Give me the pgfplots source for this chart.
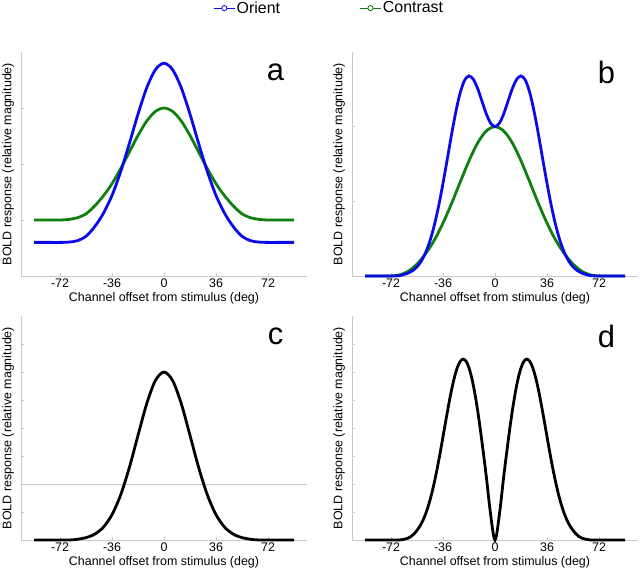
\documentclass[border=0pt]{standalone}
\usepackage{pgfplots}
\pgfplotsset{compat=1.18}
\usepackage{fontspec}
\setmainfont{Liberation Sans}
\definecolor{cblue}{RGB}{10,10,235}
\definecolor{cgreen}{RGB}{15,128,15}
\definecolor{axgray}{RGB}{200,200,200}
\pgfplotsset{panel/.style={
 scale only axis, width=286bp, height=224bp,
 xmin=-99, xmax=99,
 axis x line*=bottom, axis y line*=left,
 axis line style={axgray, line width=0.8bp, -},
 xtick={-72,-36,0,36,72}, xticklabels={-72,-36,0,36,72},
 yticklabels={},
 tick align=inside, major tick length=3bp,
 tick style={axgray, line width=0.8bp},
 xticklabel style={font=\fontsize{12.5}{14}\selectfont, inner sep=1bp, yshift=-2bp},
 xlabel={Channel offset from stimulus (deg)},
 ylabel={BOLD response (relative magnitude)},
 label style={font=\fontsize{12.5}{14}\selectfont},
 xlabel style={at={(axis description cs:0.5,-0.1)}, anchor=center},
 ylabel style={at={(axis description cs:-0.045,0.5)}, anchor=center},
 clip=false,
 every axis plot/.append style={line width=2.8bp, smooth},
}}
\newcommand{\panellabel}[1]{\node[font=\fontsize{31}{31}\selectfont] at (rel axis cs:0.89,0.91) {#1};}
\begin{document}
\begin{tikzpicture}
\path[use as bounding box] (0,0) rectangle (640bp,573bp);
% panel a
\begin{axis}[panel, at={(21bp,297bp)}, anchor=south west, ymin=0, ymax=4, ytick={1,2,3},
 legend style={at={(1.077,1.196)}, anchor=center, draw=none, fill=none, legend columns=2,
   font=\fontsize{16}{18}\selectfont, /tikz/every even column/.append style={column sep=78bp},
   inner sep=0bp, nodes={inner sep=1.5bp}},
 legend image code/.code={\draw[#1, line width=0.8bp] (0bp,0bp) -- (21bp,0bp); \draw[#1, line width=0.8bp, fill=white] (10.5bp,0bp) circle (2.6bp);}]
\addlegendimage{cblue}\addlegendentry{Orient}
\addlegendimage{cgreen}\addlegendentry{Contrast}
\addplot[cgreen, forget plot] coordinates {(-90,1.000)(-84,1.000)(-78,1.000)(-72,1.000)(-66,1.010)(-60,1.040)(-54,1.110)(-48,1.250)(-42,1.430)(-36,1.649)(-30,1.916)(-24,2.213)(-18,2.510)(-12,2.765)(-6,2.938)(0,3.000)(6,2.938)(12,2.765)(18,2.510)(24,2.213)(30,1.916)(36,1.649)(42,1.430)(48,1.250)(54,1.110)(60,1.040)(66,1.010)(72,1.000)(78,1.000)(84,1.000)(90,1.000)};
\addplot[cblue, forget plot] coordinates {(-90,0.600)(-84,0.600)(-78,0.600)(-72,0.600)(-66,0.605)(-60,0.630)(-54,0.710)(-48,0.880)(-42,1.117)(-36,1.439)(-30,1.863)(-24,2.365)(-18,2.890)(-12,3.358)(-6,3.683)(0,3.800)(6,3.683)(12,3.358)(18,2.890)(24,2.365)(30,1.863)(36,1.439)(42,1.117)(48,0.880)(54,0.710)(60,0.630)(66,0.605)(72,0.600)(78,0.600)(84,0.600)(90,0.600)};
\panellabel{a}
\end{axis}
% panel b
\begin{axis}[panel, at={(352bp,297bp)}, anchor=south west, ymin=0, ymax=3, ytick={1,2}]
\addplot[cgreen] coordinates {(-90,0)(-84,0)(-78,0)(-72,0)(-66,0.015)(-60,0.065)(-54,0.160)(-48,0.300)(-42,0.480)(-36,0.709)(-30,0.974)(-24,1.262)(-18,1.543)(-12,1.782)(-6,1.943)(0,2.000)(6,1.943)(12,1.782)(18,1.543)(24,1.262)(30,0.974)(36,0.709)(42,0.480)(48,0.300)(54,0.160)(60,0.065)(66,0.015)(72,0)(78,0)(84,0)(90,0)};
\addplot[cblue] coordinates {(-90,0)(-84,0)(-78,0)(-72,0)(-66,0.005)(-63,0.020)(-60,0.041)(-57,0.072)(-54,0.123)(-51,0.201)(-48,0.316)(-45,0.473)(-42,0.681)(-39,0.939)(-36,1.241)(-33,1.569)(-30,1.903)(-27,2.210)(-24,2.461)(-21,2.623)(-18,2.680)(-15,2.634)(-12,2.510)(-9,2.340)(-6,2.170)(-3,2.046)(0,2.000)(3,2.046)(6,2.170)(9,2.340)(12,2.510)(15,2.634)(18,2.680)(21,2.623)(24,2.461)(27,2.210)(30,1.903)(33,1.569)(36,1.241)(39,0.939)(42,0.681)(45,0.473)(48,0.316)(51,0.201)(54,0.123)(57,0.072)(60,0.041)(63,0.020)(66,0.005)(72,0)(78,0)(84,0)(90,0)};
\panellabel{b}
\end{axis}
% panel c
\begin{axis}[panel, at={(21bp,33bp)}, anchor=south west, ymin=0, ymax=8, ytick={1,2,3,4,5,6,7}]
\addplot[axgray, line width=0.8bp, sharp plot] coordinates {(-99,2)(99,2)};
\addplot[black] coordinates {(-90,0)(-84,0)(-78,0)(-72,0)(-66,0)(-60,0.025)(-54,0.085)(-48,0.207)(-42,0.456)(-36,0.904)(-30,1.611)(-24,2.587)(-18,3.737)(-12,4.862)(-6,5.693)(0,6.000)(6,5.693)(12,4.862)(18,3.737)(24,2.587)(30,1.611)(36,0.904)(42,0.456)(48,0.207)(54,0.085)(60,0.025)(66,0)(72,0)(78,0)(84,0)(90,0)};
\panellabel{c}
\end{axis}
% panel d
\begin{axis}[panel, at={(352bp,33bp)}, anchor=south west, ymin=0, ymax=8, ytick={1,2,3,4,5,6,7}]
\addplot[black] coordinates {(-90,0)(-84,0)(-78,0)(-72,0)(-66,0)(-63,0.025)(-60,0.07)(-58,0.13)(-56,0.22)(-54,0.346)(-52,0.494)(-50,0.688)(-48,0.937)(-46,1.246)(-44,1.621)(-42,2.060)(-40,2.560)(-38,3.109)(-36,3.690)(-34,4.281)(-32,4.855)(-30,5.381)(-28,5.828)(-26,6.171)(-24,6.387)(-22,6.460)(-20,6.381)(-18,6.147)(-16,5.766)(-14,5.250)(-12,4.616)(-10,3.887)(-8,3.088)(-6,2.251)(-4,1.320)(-3,0.900)(-2,0.500)(-1,0.160)(0,0)(1,0.160)(2,0.500)(3,0.900)(4,1.320)(6,2.251)(8,3.088)(10,3.887)(12,4.616)(14,5.250)(16,5.766)(18,6.147)(20,6.381)(22,6.460)(24,6.387)(26,6.171)(28,5.828)(30,5.381)(32,4.855)(34,4.281)(36,3.690)(38,3.109)(40,2.560)(42,2.060)(44,1.621)(46,1.246)(48,0.937)(50,0.688)(52,0.494)(54,0.346)(56,0.22)(58,0.13)(60,0.07)(63,0.025)(66,0)(72,0)(78,0)(84,0)(90,0)};
\panellabel{d}
\end{axis}
\end{tikzpicture}
\end{document}
